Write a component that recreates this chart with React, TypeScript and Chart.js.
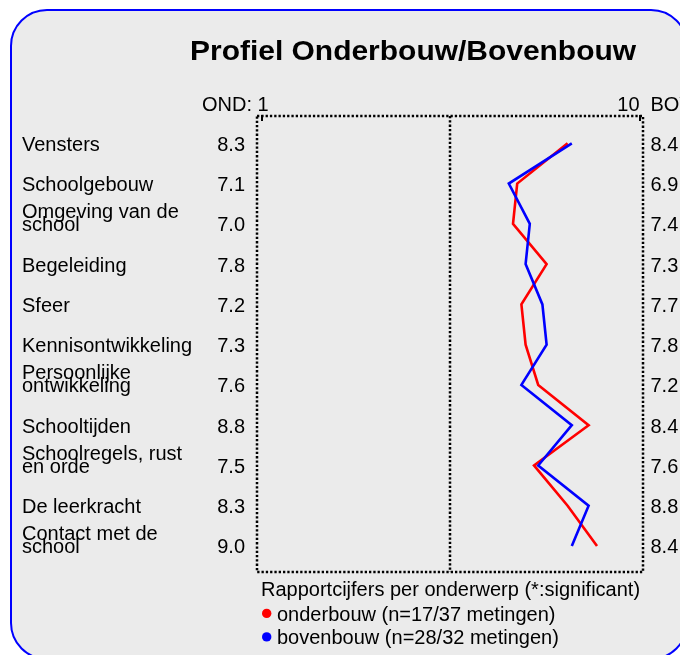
import { useEffect, useRef } from "react";
import { Chart, registerables } from "chart.js";

Chart.register(...registerables);

// ---- data ----
const categories: string[][] = [
  ["Vensters"],
  ["Schoolgebouw"],
  ["Omgeving van de", "school"],
  ["Begeleiding"],
  ["Sfeer"],
  ["Kennisontwikkeling"],
  ["Persoonlijke", "ontwikkeling"],
  ["Schooltijden"],
  ["Schoolregels, rust", "en orde"],
  ["De leerkracht"],
  ["Contact met de", "school"],
];
const ondValues = [8.3, 7.1, 7.0, 7.8, 7.2, 7.3, 7.6, 8.8, 7.5, 8.3, 9.0];
const bovValues = [8.4, 6.9, 7.4, 7.3, 7.7, 7.8, 7.2, 8.4, 7.6, 8.8, 8.4];
const scaleMin = 1;
const scaleMax = 10;
const titleText = "Profiel Onderbouw/Bovenbouw";
const headerLeft = "OND:";
const headerRight = "BOV:";
const legendTitle = "Rapportcijfers per onderwerp (*:significant)";
const seriesNames = ["onderbouw (n=17/37 metingen)", "bovenbouw (n=28/32 metingen)"];
const seriesColors = ["#ff0000", "#0000ff"];

const FONT = "'Liberation Sans', Arial, Helvetica, sans-serif";

const customPlugin = {
  id: "profielDecor",
  beforeDraw(chart: any) {
    const ctx = chart.ctx as CanvasRenderingContext2D;
    const { width, height } = chart;
    ctx.save();
    ctx.fillStyle = "#ffffff";
    ctx.fillRect(0, 0, width, height);
    ctx.beginPath();
    (ctx as any).roundRect(11, 10, 676, 649, 36);
    ctx.fillStyle = "#ebebeb";
    ctx.fill();
    ctx.lineWidth = 2;
    ctx.strokeStyle = "#0000ff";
    ctx.stroke();
    ctx.restore();
  },
  beforeDatasetsDraw(chart: any) {
    const ctx = chart.ctx as CanvasRenderingContext2D;
    const a = chart.chartArea;
    const xs = chart.scales.x;
    ctx.save();
    ctx.strokeStyle = "#000000";
    ctx.lineWidth = 2.5;
    ctx.setLineDash([2.3, 2]);
    ctx.strokeRect(a.left, a.top, a.right - a.left, a.bottom - a.top);
    const mid = Math.round(xs.getPixelForValue((scaleMin + scaleMax) / 2));
    ctx.beginPath();
    ctx.moveTo(mid, a.top);
    ctx.lineTo(mid, a.bottom);
    ctx.stroke();
    ctx.setLineDash([]);
    ctx.lineWidth = 2;
    // small tick marks at scale ends
    [scaleMin, scaleMax].forEach((v) => {
      const px = Math.round(xs.getPixelForValue(v)) + 1;
      ctx.beginPath();
      ctx.moveTo(px, a.top - 1);
      ctx.lineTo(px, a.top + 5);
      ctx.stroke();
    });
    ctx.restore();
  },
  afterDraw(chart: any) {
    const ctx = chart.ctx as CanvasRenderingContext2D;
    const a = chart.chartArea;
    const xs = chart.scales.x;
    const ys = chart.scales.y;
    ctx.save();
    ctx.fillStyle = "#000000";
    ctx.textBaseline = "alphabetic";

    // title
    ctx.save();
    ctx.font = `bold 28px ${FONT}`;
    ctx.textAlign = "left";
    ctx.translate(190, 59.5);
    ctx.scale(1.07, 1);
    ctx.fillText(titleText, 0, 0);
    ctx.restore();

    ctx.font = `20px ${FONT}`;
    // header
    ctx.textAlign = "right";
    ctx.fillText(headerLeft, a.left - 5, 110.7);
    ctx.textAlign = "left";
    ctx.fillText(String(scaleMin), a.left + 0.5, 110.7);
    ctx.textAlign = "right";
    ctx.fillText(String(scaleMax), xs.getPixelForValue(scaleMax) + 0.5, 110.7);
    ctx.textAlign = "left";
    ctx.fillText(headerRight, a.right + 7.5, 110.7);

    // rows
    categories.forEach((lines, i) => {
      const base = ys.getPixelForValue(i) + 7.5;
      ctx.textAlign = "left";
      lines.forEach((ln, j) => {
        ctx.fillText(ln, 22, base - (lines.length - 1 - j) * 13.4);
      });
      ctx.textAlign = "right";
      ctx.fillText(ondValues[i].toFixed(1), a.left - 12, base);
      ctx.textAlign = "left";
      ctx.fillText(bovValues[i].toFixed(1), a.right + 7.5, base);
    });

    // legend
    ctx.textAlign = "left";
    ctx.fillText(legendTitle, 261, 596);
    seriesNames.forEach((name, k) => {
      const base = 620.7 + k * 23.5;
      ctx.beginPath();
      ctx.arc(266.7, base - 7.3, 4.7, 0, Math.PI * 2);
      ctx.fillStyle = seriesColors[k];
      ctx.fill();
      ctx.fillStyle = "#000000";
      ctx.fillText(name, 277, base);
    });
    ctx.restore();
  },
};

export default function App() {
  const ref = useRef<HTMLCanvasElement | null>(null);
  useEffect(() => {
    document.body.style.margin = "0";
    const canvas = ref.current;
    if (!canvas) return;
    const rowCount = categories.length;
    const chart = new Chart(canvas, {
      type: "scatter",
      data: {
        datasets: [
          {
            label: seriesNames[1],
            data: bovValues.map((v, i) => ({ x: v, y: i })),
            borderColor: seriesColors[1],
            backgroundColor: seriesColors[1],
            borderWidth: 2.6,
            showLine: true,
            pointRadius: 0,
            tension: 0,
          },
          {
            label: seriesNames[0],
            data: ondValues.map((v, i) => ({ x: v, y: i })),
            borderColor: seriesColors[0],
            backgroundColor: seriesColors[0],
            borderWidth: 2.6,
            showLine: true,
            pointRadius: 0,
            tension: 0,
          },
        ],
      },
      options: {
        responsive: false,
        animation: false,
        events: [],
        layout: { padding: { left: 257, right: 37, top: 116, bottom: 83 } },
        scales: {
          x: {
            type: "linear",
            display: false,
            min: scaleMin - 0.095,
            max: scaleMax + 0.095,
          },
          y: {
            type: "linear",
            display: false,
            reverse: true,
            min: -0.678,
            max: rowCount - 1 + 0.646,
          },
        },
        plugins: {
          legend: { display: false },
          tooltip: { enabled: false },
          title: { display: false },
        },
      },
      plugins: [customPlugin],
    });
    return () => chart.destroy();
  }, []);
  return (
    <canvas
      ref={ref}
      width={680}
      height={655}
      style={{ display: "block", width: 680, height: 655 }}
    />
  );
}
